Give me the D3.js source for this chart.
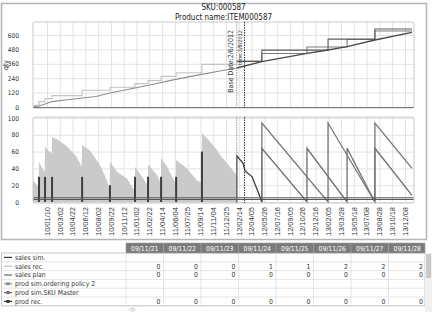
<!DOCTYPE html>
<html><head><meta charset="utf-8">
<script src="https://cdn.jsdelivr.net/npm/d3@7"></script>
<style>
body{margin:0;background:#fff;}
svg{display:block;font-family:"Liberation Sans Narrow","DejaVu Sans Condensed","Liberation Sans",sans-serif;}
</style></head><body><svg id="c" width="433" height="312"></svg>
<script>
// ---------- data ----------
const titleText = "SKU:000587";
const subtitleText = "Product name:ITEM000587";
const tickLabels = ["10/01/10","10/03/02","10/04/22","10/06/12","10/08/02","10/09/22","10/11/12","11/01/02","11/02/22","11/04/14","11/06/04","11/07/25","11/09/14","11/11/04","11/12/25","12/02/14","12/04/05","12/05/26","12/07/16","12/09/05","12/10/26","12/12/16","13/02/05","13/03/28","13/05/18","13/07/08","13/08/28","13/10/18","13/12/08"];
const topTicks = [0,120,240,360,480,600];
const botTicks = [0,20,40,60,80,100];
const baseDate = "2012-02-06", timeDate = "2012-03-08";
const baseLabel = "Base Date:2/6/2012", timeLabel = "time:3/8/2012";

// top chart: cumulative quantities
const cumProdRec = [["2009-11-15",15],["2009-12-09",45],["2010-01-02",70],["2010-01-30",95],["2010-05-30",140],["2010-09-18",165],["2010-12-27",195],["2011-02-17",220],["2011-04-10",255],["2011-06-09",285],["2011-09-20",355],["2012-02-06",355]];
const cumSalesRec = [["2009-11-15",0],["2009-12-09",8],["2010-01-02",25],["2010-01-30",45],["2010-03-31",60],["2010-07-24",88],["2010-09-18",117],["2010-12-27",158],["2011-03-10",190],["2011-06-07",230],["2011-09-18",272],["2011-12-01",300],["2012-02-06",325]];
const cumSalesSim = [["2012-02-06",325],["2012-05-16",378],["2012-11-12",447],["2013-02-04",475],["2013-04-21",503],["2013-08-10",558],["2014-01-05",622]];
const cumProdSimP = [["2012-02-06",380],["2012-05-16",446],["2012-11-12",500],["2013-04-21",562],["2013-08-10",633],["2014-01-05",633]];
const cumProdSimQ = [["2012-02-06",380],["2012-05-16",474],["2013-02-04",566],["2013-08-10",650],["2014-01-05",650]];

// bottom chart: inventory and production
const invRec = [["2009-11-15",26],["2009-12-05",19],["2009-12-08",18],["2009-12-09",48],["2009-12-25",38],["2010-01-01",36],["2010-01-02",66],["2010-01-18",60],["2010-01-29",58],["2010-01-30",77],["2010-02-23",74],["2010-03-31",66],["2010-05-02",56],["2010-05-22",46],["2010-05-28",42],["2010-05-30",68],["2010-07-01",61],["2010-08-09",44],["2010-09-06",26],["2010-09-17",14],["2010-09-18",48],["2010-10-16",36],["2010-11-25",28],["2010-12-19",16],["2010-12-26",14],["2010-12-27",42],["2011-02-16",20],["2011-02-17",45],["2011-03-25",32],["2011-04-09",22],["2011-04-10",52],["2011-05-04",42],["2011-06-07",22],["2011-06-09",50],["2011-07-22",40],["2011-08-31",26],["2011-09-19",23],["2011-09-20",82],["2011-10-22",72],["2011-11-19",62],["2011-12-01",56],["2012-01-10",42],["2012-02-05",32]];
const prodRec = [["2009-12-09",30],["2010-01-02",30],["2010-01-30",30],["2010-05-30",30],["2010-09-18",20],["2010-12-27",30],["2011-02-17",30],["2011-04-10",30],["2011-06-09",30],["2011-09-20",60]];
const invSimStart = [["2012-02-06",0],["2012-02-06",55],["2012-03-02",46],["2012-03-10",37],["2012-04-07",30],["2012-05-01",12],["2012-05-16",0]];
const invSimQ = [["2012-05-16",0],["2012-05-16",94],["2013-02-04",0],["2013-02-04",94],["2013-08-10",0],["2013-08-10",94],["2014-01-05",40]];
const invSimP = [["2012-05-16",0],["2012-05-16",64],["2012-11-12",0],["2012-11-12",64],["2013-04-21",0],["2013-04-21",64],["2013-08-10",0],["2013-08-10",64],["2014-01-05",8]];
const safetyLevels = [3,5];

// table
const tableDates = ["09/11/21","09/11/22","09/11/23","09/11/24","09/11/25","09/11/26","09/11/27","09/11/28"];
const rowLabels = ["sales sim.","sales rec.","sales plan","prod sim.ordering policy 2","prod sim.SKU Master","prod rec."];
const rowSalesSim = [null,null,null,null,null,null,null,null];
const rowSalesRec = [0,0,0,1,1,2,2,2];
const rowSalesPlan = [0,0,0,0,0,0,0,0];
const rowProdSimP = [null,null,null,null,null,null,null,null];
const rowProdSimQ = [null,null,null,null,null,null,null,null];
const rowProdRec = [0,0,0,0,0,0,0,0];

// ---------- drawing ----------
const parse = d3.timeParse("%Y-%m-%d");
const pt = a => a.map(d => [parse(d[0]), d[1]]);
const svg = d3.select("#c");
const L = 33, R = 414;
const x = d3.scaleTime().domain([parse("2009-11-15"), parse("2014-01-13")]).range([L, R]);
const tickDates = tickLabels.map(s => { const p = s.split("/"); return new Date(2000 + +p[0], +p[1]-1, +p[2]); });
const yT = d3.scaleLinear().domain([0,600]).range([107,35]);
const yB = d3.scaleLinear().domain([0,100]).range([202,118]);
const topBox = {y0:22, y1:108}, botBox = {y0:117, y1:203};

// outer frame
svg.append("rect").attr("x",1.5).attr("y",3.5).attr("width",425).attr("height",236).attr("fill","none").attr("stroke","#b5b5b5").attr("stroke-width",1.5);

// titles
svg.append("text").attr("x",(L+R)/2).attr("y",10).attr("text-anchor","middle").attr("font-size",8).attr("fill","#222").text(titleText);
svg.append("text").attr("x",(L+R)/2).attr("y",20).attr("text-anchor","middle").attr("font-size",8).attr("fill","#222").text(subtitleText);

function panel(box, y, ticks){
  const g = svg.append("g");
  g.append("rect").attr("x",L).attr("y",box.y0).attr("width",R-L).attr("height",box.y1-box.y0).attr("fill","#fff");
  g.append("g").attr("transform",`translate(0,${box.y1})`)
    .call(d3.axisBottom(x).tickValues(tickDates).tickSize(-(box.y1-box.y0)).tickFormat(""))
    .call(a => { a.select(".domain").remove(); a.selectAll("line").attr("stroke","#e3e3e3"); });
  g.append("g").attr("transform",`translate(${L},0)`)
    .call(d3.axisLeft(y).tickValues(ticks).tickSize(-(R-L)).tickFormat(""))
    .call(a => { a.select(".domain").remove(); a.selectAll("line").attr("stroke","#e3e3e3"); });
  g.append("g").attr("transform",`translate(${L-14},0)`)
    .call(d3.axisLeft(y).tickValues(ticks).tickSize(0).tickPadding(0))
    .call(a => { a.select(".domain").remove(); a.selectAll("text").attr("font-size",6.5).attr("fill","#333").attr("font-family",'"Liberation Sans Narrow","DejaVu Sans Condensed",sans-serif'); });
  return g;
}
const gTop = panel(topBox, yT, topTicks);
const gBot = panel(botBox, yB, botTicks);

svg.append("text").attr("transform","translate(8,65) rotate(-90)").attr("text-anchor","middle").attr("font-size",7).attr("fill","#333").text("qty");

const line = (y, curve) => d3.line().x(d => x(d[0])).y(d => y(d[1])).curve(curve || d3.curveLinear);
gTop.append("path").datum(pt(cumProdRec)).attr("d", line(yT, d3.curveStepAfter)).attr("fill","none").attr("stroke","#c4c4c4").attr("stroke-width",1.1);
gTop.append("path").datum(pt(cumSalesRec)).attr("d", line(yT)).attr("fill","none").attr("stroke","#8e8e8e").attr("stroke-width",1.1);
gTop.append("path").datum(pt(cumProdSimP)).attr("d", line(yT, d3.curveStepAfter)).attr("fill","none").attr("stroke","#7c7c7c").attr("stroke-width",1.1);
gTop.append("path").datum(pt(cumProdSimQ)).attr("d", line(yT, d3.curveStepAfter)).attr("fill","none").attr("stroke","#5c5c5c").attr("stroke-width",1.1);
gTop.append("path").datum(pt(cumSalesSim)).attr("d", line(yT)).attr("fill","none").attr("stroke","#4a4a4a").attr("stroke-width",1.4);

gBot.append("path").datum(pt(invRec)).attr("d", d3.area().x(d => x(d[0])).y0(yB(0)).y1(d => yB(d[1]))).attr("fill","#cacaca");
gBot.selectAll("rect.bar").data(pt(prodRec)).join("rect").attr("class","bar")
  .attr("x", d => x(d[0]) - 1).attr("width",2).attr("y", d => yB(d[1])).attr("height", d => yB(0) - yB(d[1])).attr("fill","#3e3e3e");
gBot.append("path").datum(pt(invSimP)).attr("d", line(yB)).attr("fill","none").attr("stroke","#6e6e6e").attr("stroke-width",1.3);
gBot.append("path").datum(pt(invSimQ)).attr("d", line(yB)).attr("fill","none").attr("stroke","#777").attr("stroke-width",1.3);
gBot.append("path").datum(pt(invSimStart)).attr("d", line(yB)).attr("fill","none").attr("stroke","#3a3a3a").attr("stroke-width",1.3);
safetyLevels.forEach(v => gBot.append("line").attr("x1",L).attr("x2",R).attr("y1",yB(v)).attr("y2",yB(v)).attr("stroke","#555").attr("stroke-width",1));

[topBox, botBox].forEach(b => svg.append("rect").attr("x",L).attr("y",b.y0).attr("width",R-L).attr("height",b.y1-b.y0).attr("rx",2).attr("fill","none").attr("stroke","#c8c8c8"));
svg.append("line").attr("x1",L).attr("x2",R).attr("y1",yT(0)+0.5).attr("y2",yT(0)+0.5).attr("stroke","#777").attr("stroke-width",1.2);

[[baseDate,"#999",baseLabel,7,-4],[timeDate,"#333",timeLabel,5.5,-3]].forEach(([d,c,lab,fs,dx]) => {
  const xx = x(parse(d));
  [topBox, botBox].forEach(b => svg.append("line").attr("x1",xx).attr("x2",xx).attr("y1",b.y0).attr("y2",b.y1).attr("stroke",c).attr("stroke-dasharray","1.5,1"));
  svg.append("text").attr("transform",`translate(${xx+dx},30) rotate(-90)`).attr("text-anchor","end").attr("font-size",fs).attr("fill","#333").text(lab);
});

svg.append("g").attr("transform",`translate(0,${botBox.y1})`)
  .call(d3.axisBottom(x).tickValues(tickDates).tickSize(0).tickFormat((d,i) => tickLabels[i]))
  .call(a => { a.select(".domain").remove();
    a.selectAll("text").attr("transform","rotate(-90)").attr("x",-4).attr("y",0).attr("dy","0.35em")
     .attr("text-anchor","end").attr("font-size",6.5).attr("fill","#333").attr("textLength",29).attr("lengthAdjust","spacingAndGlyphs"); });

// ---------- table ----------
const tX0 = 126, cw = 37.5, hY = 243, hH = 10, rH = 8.8, tRight = 425;
const tg = svg.append("g");
tg.append("rect").attr("x",1.5).attr("y",hY+hH).attr("width",tRight-1.5).attr("height",rH*6).attr("fill","#fff").attr("stroke","#c8c8c8");
tableDates.forEach((d,i) => {
  const cx = tX0 + i*cw, w = Math.min(cw, tRight - cx);
  tg.append("rect").attr("x",cx).attr("y",hY).attr("width",w).attr("height",hH).attr("fill","#7a7a7a").attr("stroke","#a0a0a0").attr("stroke-width",0.6);
  tg.append("text").attr("x",cx + cw/2).attr("y",hY+7.5).attr("text-anchor","middle").attr("font-size",6.8).attr("fill","#fff").text(d);
});
const rowsData = [rowSalesSim,rowSalesRec,rowSalesPlan,rowProdSimP,rowProdSimQ,rowProdRec];
const glyphColors = ["#333","#bbb","#666","#888","#666","#333"];
rowLabels.forEach((lab,r) => {
  const ry = hY + hH + r*rH;
  tg.append("line").attr("x1",1.5).attr("x2",tRight).attr("y1",ry+rH).attr("y2",ry+rH).attr("stroke","#d4d4d4").attr("stroke-width",0.6);
  tg.append("line").attr("x1",4).attr("x2",12).attr("y1",ry+rH/2).attr("y2",ry+rH/2).attr("stroke",glyphColors[r]).attr("stroke-width",1.2);
  if (r >= 3) tg.append("rect").attr("x",6.5).attr("y",ry+rH/2-1.5).attr("width",3).attr("height",3).attr("fill",glyphColors[r]);
  tg.append("text").attr("x",15).attr("y",ry+rH/2+2.4).attr("font-size",6.8).attr("fill","#333").text(lab);
  rowsData[r].forEach((v,i) => {
    if (v === null) return;
    tg.append("text").attr("x",tX0 + (i+1)*cw - 3).attr("y",ry+rH/2+2.4).attr("text-anchor","end").attr("font-size",6.8).attr("fill","#333").text(v);
  });
});
tableDates.forEach((d,i) => {
  tg.append("line").attr("x1",tX0 + i*cw).attr("x2",tX0 + i*cw).attr("y1",hY+hH).attr("y2",hY+hH+rH*6).attr("stroke","#d4d4d4").attr("stroke-width",0.6);
});
tg.append("rect").attr("x",425).attr("y",hY+hH).attr("width",7).attr("height",312-hY-hH).attr("fill","#f0f0f0");
tg.append("rect").attr("x",426).attr("y",hY+hH+1).attr("width",5).attr("height",24).attr("fill","#c9c9c9");
tg.append("text").attr("x",128).attr("y",311).attr("font-size",5).attr("fill","#999").text("◁|▷");
</script></body></html>
